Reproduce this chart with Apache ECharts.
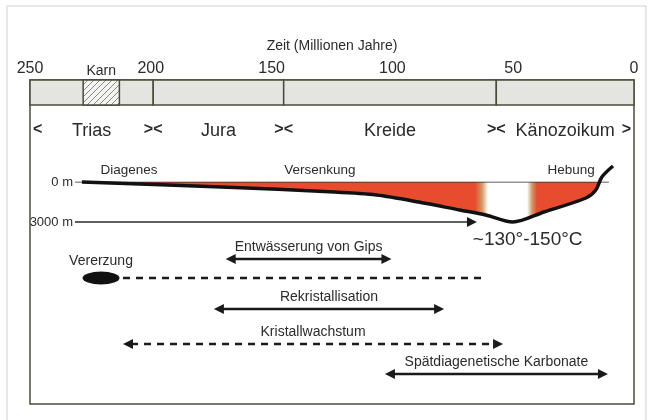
<!DOCTYPE html>
<html>
<head>
<meta charset="utf-8">
<script src="https://cdn.jsdelivr.net/npm/echarts@6/dist/echarts.min.js"></script>
<style>
html, body { margin: 0; padding: 0; background: #fff; }
#main { width: 655px; height: 420px; }
</style>
</head>
<body>
<div id="main"></div>
<script>
// Zeitskala (Ma)
const timeTicks = [250, 200, 150, 100, 50, 0];
const periods = ['Trias', 'Jura', 'Kreide', 'Känozoikum'];
const periodStart = [250, 199, 145, 57];
const periodEnd = [199, 145, 57, 0];
const karnSpan = [228, 213];

// Versenkungskurve: Alter (Ma) / Tiefe (m)
const profileAge = [228.5, 170.8, 124, 106.6, 89.1, 72.1, 61.4, 50.2, 37.3, 19.9, 15.8, 13.3, 8.7];
const profileDepth = [0, 375, 750, 975, 1500, 2100, 2475, 3000, 2250, 1200, 600, -375, -1200];
const depthTicks = [0, 3000];
const surfaceSpan = [231.4, 10.4];
const heatArrow = [231.4, 65];
const fadeAges = [65.8, 62.9, 60.4, 44.3, 42.2, 40.2];
const stages = ['Diagenes', 'Versenkung', 'Hebung'];
const stageAge = [209, 130, 26];
const tempLabel = '~130°-150°C';
const tempAge = 44;

// Prozesse
const processes = ['Entwässerung von Gips', 'Vererzung', 'Rekristallisation', 'Kristallwachstum', 'Spätdiagenetische Karbonate'];
const processStart = [169, 211.5, 173.9, 211.5, 103.1];
const processEnd = [100.4, 61.9, 78.6, 54.2, 10.8];
const processDashed = [false, true, false, true, false];
const processArrows = [true, false, true, true, true];
const oreAge = 220.6;

const font = '"Liberation Sans", Arial, sans-serif';
const ink = '#2b2b2b';
const frameInk = '#4b4b3b';
const rowY = [0, 19, 50, 85, 115];

function hatch() {
    const c = document.createElement('canvas');
    c.width = 6; c.height = 6;
    const g = c.getContext('2d');
    g.strokeStyle = '#8a8a80';
    g.lineWidth = 1;
    g.beginPath();
    g.moveTo(0, 6); g.lineTo(6, 0);
    g.moveTo(-1, 1); g.lineTo(1, -1);
    g.moveTo(5, 7); g.lineTo(7, 5);
    g.stroke();
    return c;
}

function textEl(x, y, text, size, align, vAlign, weight) {
    return {
        type: 'text', x: x, y: y,
        style: {
            text: text, fill: ink, fontSize: size, fontFamily: font, fontWeight: weight || 'normal',
            align: align, textAlign: align, verticalAlign: vAlign, textVerticalAlign: vAlign
        }
    };
}

function head(tip, dir) {
    const L = 10, W = 5;
    return {
        type: 'polygon',
        shape: {points: [[tip[0], tip[1]], [tip[0] - dir * L, tip[1] - W], [tip[0] - dir * L, tip[1] + W]]},
        style: {fill: '#1a1a1a'}
    };
}

const span = profileAge[0] - profileAge[profileAge.length - 1];
const off = a => (profileAge[0] - a) / span;
const red = '#e84c2e', tan = '#cf9a66';

const hiddenX = (i) => ({
    gridIndex: i, type: 'value', min: 0, max: 250, inverse: true, show: false
});

const boundaries = periodStart.concat([periodEnd[periodEnd.length - 1]]);

const option = {
    backgroundColor: '#fff',
    animation: false,
    textStyle: {fontFamily: font, color: ink},
    grid: [
        {left: 30, right: 21, top: 80, height: 25, outerBoundsMode: 'none'},
        {left: 30, right: 21, top: 182, height: 40, outerBoundsMode: 'none'},
        {left: 30, right: 21, top: 259, height: 115, outerBoundsMode: 'none'},
        {left: 30, right: 21, top: 80, bottom: 16, show: true, borderColor: frameInk, borderWidth: 1.5, backgroundColor: 'transparent', outerBoundsMode: 'none'},
        {left: 7, right: 9, top: 6, bottom: -10, show: true, borderColor: '#d0d0d0', borderWidth: 1, backgroundColor: 'transparent', outerBoundsMode: 'none'}
    ],
    xAxis: [
        {
            gridIndex: 0, type: 'value', min: 0, max: 250, interval: 50, inverse: true, position: 'top',
            name: 'Zeit (Millionen Jahre)', nameLocation: 'middle', nameGap: 27,
            nameTextStyle: {fontSize: 14, color: ink, fontFamily: font},
            axisLine: {show: false},
            axisTick: {show: true, length: 5, customValues: [200, 150, 100, 50], lineStyle: {color: frameInk, width: 1.5}},
            axisLabel: {fontSize: 16, margin: 3, color: ink, fontFamily: font, customValues: timeTicks},
            splitLine: {show: false}
        },
        hiddenX(1), hiddenX(2), hiddenX(3), hiddenX(4)
    ],
    yAxis: [
        {gridIndex: 0, type: 'value', min: 0, max: 1, show: false},
        {
            gridIndex: 1, type: 'value', min: depthTicks[0], max: depthTicks[1], interval: 3000, inverse: true, offset: -52,
            axisLine: {show: false},
            axisTick: {show: false},
            axisLabel: {fontSize: 13, margin: 9, color: ink, fontFamily: font, formatter: v => v + ' m'},
            splitLine: {show: false}
        },
        {gridIndex: 2, type: 'value', min: 0, max: 115, inverse: true, show: false},
        {gridIndex: 3, type: 'value', min: 0, max: 1, show: false},
        {gridIndex: 4, type: 'value', min: 0, max: 1, show: false}
    ],
    series: [
        {
            // Perioden-Balken
            type: 'custom', xAxisIndex: 0, yAxisIndex: 0, clip: false,
            data: periods.map((p, i) => [periodStart[i], periodEnd[i], i]),
            renderItem: function (params, api) {
                const s = api.coord([api.value(0), 1]);
                const e = api.coord([api.value(1), 0]);
                return {
                    type: 'group', children: [
                        {type: 'rect', shape: {x: s[0], y: s[1], width: e[0] - s[0], height: e[1] - s[1]},
                            style: {fill: '#e4e4e1', stroke: frameInk, lineWidth: 1.5}},
                        textEl((s[0] + e[0]) / 2, e[1] + 26, periods[api.value(2)], 18, 'center', 'middle')
                    ]
                };
            }
        },
        {
            // Karn
            type: 'custom', xAxisIndex: 0, yAxisIndex: 0, clip: false,
            data: [[karnSpan[0], karnSpan[1]]],
            renderItem: function (params, api) {
                const s = api.coord([api.value(0), 1]);
                const e = api.coord([api.value(1), 0]);
                const shape = {x: s[0], y: s[1], width: e[0] - s[0], height: e[1] - s[1]};
                return {
                    type: 'group', children: [
                        {type: 'rect', shape: shape, style: {fill: '#f4f4f2'}},
                        {type: 'rect', shape: shape, style: {fill: {image: hatch(), repeat: 'repeat'}, stroke: frameInk, lineWidth: 1.5}},
                        textEl((s[0] + e[0]) / 2, s[1] - 9, 'Karn', 14, 'center', 'middle')
                    ]
                };
            }
        },
        {
            // Grenzmarken
            type: 'custom', xAxisIndex: 0, yAxisIndex: 0, clip: false,
            data: boundaries.map((b, i) => [b, i]),
            renderItem: function (params, api) {
                const p = api.coord([api.value(0), 0]);
                const i = api.value(1);
                const last = boundaries.length - 1;
                if (i === 0) return textEl(p[0] + 3, p[1] + 25, '<', 16, 'left', 'middle', 'bold');
                if (i === last) return textEl(p[0] - 3, p[1] + 25, '>', 16, 'right', 'middle', 'bold');
                return textEl(p[0], p[1] + 25, '><', 16, 'center', 'middle', 'bold');
            }
        },
        {
            // rote Fläche
            type: 'line', xAxisIndex: 1, yAxisIndex: 1, clip: true, symbol: 'none', smooth: 0.3, z: 1,
            data: profileAge.map((a, i) => [a, profileDepth[i]]),
            lineStyle: {width: 0, opacity: 0},
            areaStyle: {
                opacity: 1, origin: 'start',
                color: {
                    type: 'linear', x: 0, y: 0, x2: 1, y2: 0,
                    colorStops: [
                        {offset: 0, color: red},
                        {offset: off(fadeAges[0]), color: red},
                        {offset: off(fadeAges[1]), color: tan},
                        {offset: off(fadeAges[2]), color: '#fff'},
                        {offset: off(fadeAges[3]), color: '#fff'},
                        {offset: off(fadeAges[4]), color: tan},
                        {offset: off(fadeAges[5]), color: red},
                        {offset: 1, color: red}
                    ]
                }
            }
        },
        {
            // 0 m Linie
            type: 'line', xAxisIndex: 1, yAxisIndex: 1, symbol: 'none', z: 3,
            data: [[surfaceSpan[0], 0], [surfaceSpan[1], 0]],
            lineStyle: {width: 1, color: ink}
        },
        {
            // Versenkungskurve
            type: 'line', xAxisIndex: 1, yAxisIndex: 1, clip: false, symbol: 'none', smooth: 0.3, z: 4,
            data: profileAge.map((a, i) => [a, profileDepth[i]]),
            lineStyle: {width: 3.5, color: '#111'}
        },
        {
            // Pfeil bei 3000 m
            type: 'custom', xAxisIndex: 1, yAxisIndex: 1, clip: false,
            data: [[heatArrow[0], heatArrow[1], depthTicks[1]]],
            renderItem: function (params, api) {
                const s = api.coord([api.value(0), api.value(2)]);
                const e = api.coord([api.value(1), api.value(2)]);
                return {
                    type: 'group', children: [
                        {type: 'line', shape: {x1: s[0], y1: s[1], x2: e[0] - 8, y2: e[1]}, style: {stroke: ink, lineWidth: 1.3}},
                        head(e, 1)
                    ]
                };
            }
        },
        {
            // Phasen-Beschriftung
            type: 'custom', xAxisIndex: 1, yAxisIndex: 1, clip: false,
            data: stages.map((s, i) => [stageAge[i], 0, i]),
            renderItem: function (params, api) {
                const p = api.coord([api.value(0), api.value(1)]);
                return textEl(p[0], p[1] - 12, stages[api.value(2)], 13.5, 'center', 'middle');
            }
        },
        {
            type: 'custom', xAxisIndex: 1, yAxisIndex: 1, clip: false,
            data: [[tempAge, depthTicks[1]]],
            renderItem: function (params, api) {
                const p = api.coord([api.value(0), api.value(1)]);
                return textEl(p[0], p[1] + 18, tempLabel, 19, 'center', 'middle');
            }
        },
        {
            // Prozess-Pfeile
            type: 'custom', xAxisIndex: 2, yAxisIndex: 2, clip: false,
            data: processes.map((p, i) => [processStart[i], processEnd[i], i]),
            renderItem: function (params, api) {
                const i = api.value(2);
                const s = api.coord([api.value(0), rowY[i]]);
                const e = api.coord([api.value(1), rowY[i]]);
                const arrows = processArrows[i];
                const inset = arrows ? 8 : 0;
                const kids = [{
                    type: 'line',
                    shape: {x1: s[0] + inset, y1: s[1], x2: e[0] - inset, y2: e[1]},
                    style: {stroke: '#1a1a1a', lineWidth: 2.5, lineDash: processDashed[i] ? [7, 6] : null}
                }];
                if (arrows) {
                    kids.push(head(s, -1), head(e, 1));
                }
                if (i !== 1) {
                    kids.push(textEl((s[0] + e[0]) / 2, s[1] - 12, processes[i], 14, 'center', 'middle'));
                }
                return {type: 'group', children: kids};
            }
        },
        {
            // Vererzung
            type: 'scatter', xAxisIndex: 2, yAxisIndex: 2, clip: false,
            data: [[oreAge, rowY[1]]],
            symbol: 'circle', symbolSize: [37, 13],
            itemStyle: {color: '#111', opacity: 1},
            label: {show: true, position: 'top', distance: 3, formatter: processes[1], fontSize: 14, color: ink, fontFamily: font}
        }
    ]
};

const chart = echarts.init(document.getElementById('main'));
chart.setOption(option);
</script>
</body>
</html>
